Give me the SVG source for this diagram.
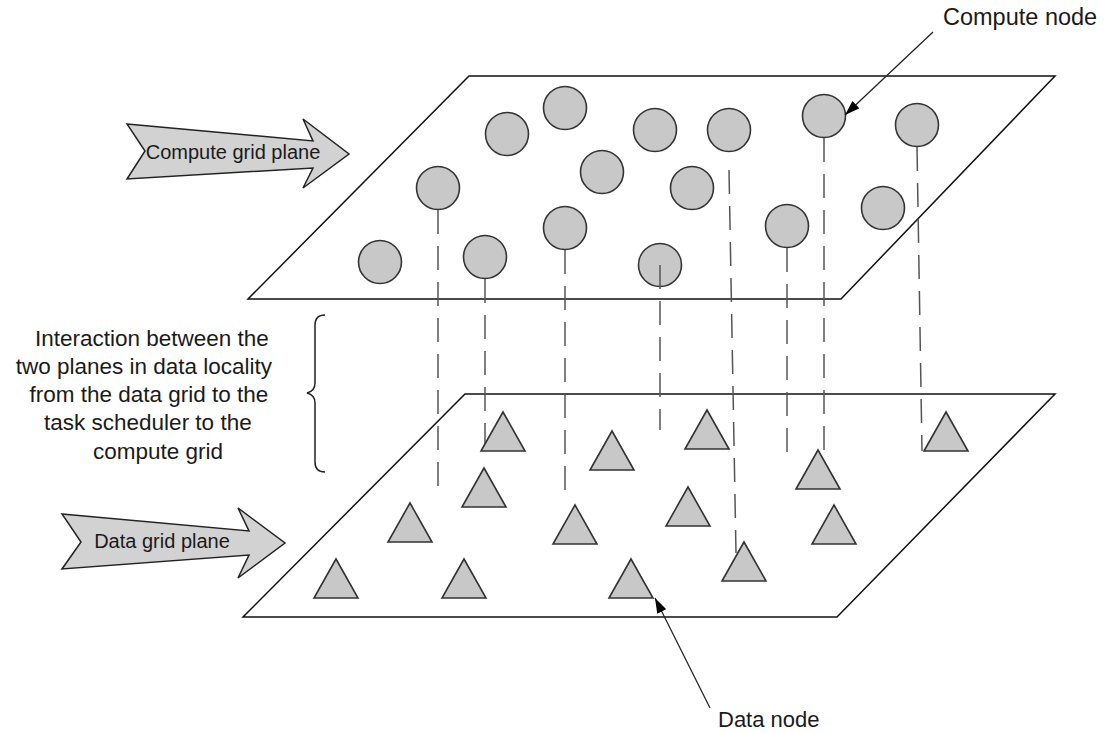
<svg xmlns="http://www.w3.org/2000/svg" xmlns:xlink="http://www.w3.org/1999/xlink" width="1109" height="733" viewBox="0 0 1109 733">
<style>
.plane{fill:none;stroke:#111;stroke-width:1.5;stroke-linejoin:miter}
.cn{fill:#c8c8c8;stroke:#333;stroke-width:1.6}
.dn{fill:#c8c8c8;stroke:#333;stroke-width:1.6;stroke-linejoin:miter}
.blk{fill:#d2d2d2;stroke:#222;stroke-width:1.5;stroke-linejoin:miter}
.link{stroke:#555;stroke-width:1.5;stroke-dasharray:24 12;fill:none}
.ptr{stroke:#222;stroke-width:1.3;fill:none}
.brace{fill:none;stroke:#222;stroke-width:1.5}
text{font-family:"Liberation Sans",Arial,sans-serif;fill:#1a1a1a}
</style>
<defs>
<polygon id="tri" points="0,0 22,39 -22,39"/>
<marker id="ah" viewBox="0 0 15 10" refX="15" refY="5" markerWidth="15" markerHeight="10" markerUnits="userSpaceOnUse" orient="auto">
<path d="M0,0 L15,5 L0,10 Z" fill="#000"/>
</marker>
</defs>
<rect width="1109" height="733" fill="#fff"/>
<g id="planes">
<polygon id="compute-plane" class="plane" points="469,76 1055,76 841,299 248,299"/>
<polygon id="data-plane" class="plane" points="465,394 1055,394 837,617 243,617"/>
</g>
<g id="compute-nodes">
<circle id="c1" class="cn" cx="380" cy="262" r="21.5"/>
<circle id="c2" class="cn" cx="438" cy="188" r="21.5"/>
<circle id="c3" class="cn" cx="485" cy="257" r="21.5"/>
<circle id="c4" class="cn" cx="507" cy="134" r="21.5"/>
<circle id="c5" class="cn" cx="565" cy="108" r="21.5"/>
<circle id="c6" class="cn" cx="565" cy="228" r="21.5"/>
<circle id="c7" class="cn" cx="602" cy="172" r="21.5"/>
<circle id="c8" class="cn" cx="655" cy="130" r="21.5"/>
<circle id="c9" class="cn" cx="692" cy="188" r="21.5"/>
<circle id="c10" class="cn" cx="660" cy="265" r="21.5"/>
<circle id="c11" class="cn" cx="729" cy="130" r="21.5"/>
<circle id="c12" class="cn" cx="787" cy="226" r="21.5"/>
<circle id="c13" class="cn" cx="824" cy="116" r="21.5"/>
<circle id="c14" class="cn" cx="883" cy="208" r="21.5"/>
<circle id="c15" class="cn" cx="917" cy="125" r="21.5"/>
</g>
<g id="connectors">
<line class="link" x1="438" y1="210" x2="438" y2="493"/>
<line class="link" x1="485" y1="279" x2="485" y2="446"/>
<line class="link" x1="565" y1="250" x2="565" y2="495"/>
<line class="link" x1="660" y1="265" x2="660" y2="430"/>
<line class="link" x1="729" y1="170" x2="736" y2="553"/>
<line class="link" x1="787" y1="248" x2="787" y2="456"/>
<line class="link" x1="824" y1="138" x2="824" y2="457"/>
<line class="link" x1="917" y1="147" x2="922" y2="451"/>
</g>
<g id="data-nodes">
<use id="t1" class="dn" href="#tri" x="503" y="412"/>
<use id="t2" class="dn" href="#tri" x="612" y="431"/>
<use id="t3" class="dn" href="#tri" x="484" y="468"/>
<use id="t4" class="dn" href="#tri" x="410" y="503"/>
<use id="t5" class="dn" href="#tri" x="575" y="505"/>
<use id="t6" class="dn" href="#tri" x="336" y="559"/>
<use id="t7" class="dn" href="#tri" x="464" y="559"/>
<use id="t8" class="dn" href="#tri" x="631" y="559"/>
<use id="t9" class="dn" href="#tri" x="707" y="410"/>
<use id="t10" class="dn" href="#tri" x="688" y="487"/>
<use id="t11" class="dn" href="#tri" x="744" y="542"/>
<use id="t12" class="dn" href="#tri" x="818" y="450"/>
<use id="t13" class="dn" href="#tri" x="834" y="505"/>
<use id="t14" class="dn" href="#tri" x="946" y="412"/>
</g>
<g id="compute-grid-arrow">
<polygon class="blk" points="127,124 313,141 303,119 349,154 303,188 313,168 127,179 145,151"/>
<text x="233" y="159" font-size="20" text-anchor="middle">Compute grid plane</text>
</g>
<g id="data-grid-arrow">
<polygon class="blk" points="62,514 249,531 238,508 285,543 238,578 249,555 62,569 81,542"/>
<text x="162" y="548" font-size="20" text-anchor="middle">Data grid plane</text>
</g>
<g id="compute-node-label">
<text x="943" y="25" font-size="23.5">Compute node</text>
<line class="ptr" x1="933" y1="32" x2="845" y2="115" marker-end="url(#ah)"/>
</g>
<g id="data-node-label">
<text x="718" y="727" font-size="22">Data node</text>
<line class="ptr" x1="710" y1="708" x2="655" y2="598" marker-end="url(#ah)"/>
</g>
<g id="interaction-label">
<path class="brace" d="M325,315 Q315,315 315,325 L315,383 Q315,391 307,393 Q315,395 315,403 L315,462 Q315,472 325,472"/>
<text font-size="22.5" text-anchor="middle">
<tspan x="155" y="346">Interaction between the</tspan>
<tspan x="147" y="374">two planes in data locality</tspan>
<tspan x="152" y="402">from the data grid to the</tspan>
<tspan x="151" y="430">task scheduler to the</tspan>
<tspan x="158" y="459">compute grid</tspan>
</text>
</g>
</svg>
